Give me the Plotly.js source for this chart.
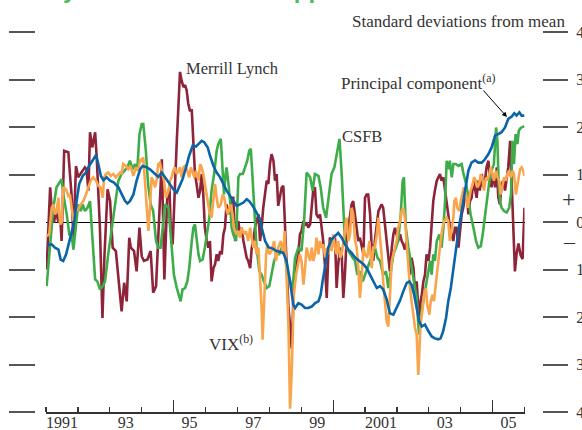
<!DOCTYPE html>
<html>
<head>
<meta charset="utf-8">
<script src="https://cdn.plot.ly/plotly-3.0.1.min.js"></script>
<style>html,body{margin:0;padding:0;background:#fff;}#chart{width:582px;height:430px;}</style>
</head>
<body>
<div id="chart"></div>
<script>
// ---- Data: [decimal year, standard deviations from mean] ----
const merrillLynch = [[1991.02,-1.00],[1991.13,0.73],[1991.19,0.16],[1991.25,-0.01],[1991.31,0.23],[1991.39,-0.01],[1991.44,0.16],[1991.49,-0.40],[1991.57,1.50],[1991.70,1.47],[1991.75,1.01],[1991.80,0.58],[1991.86,-0.33],[1991.94,1.18],[1992.01,0.94],[1992.12,1.04],[1992.22,1.15],[1992.27,1.11],[1992.33,0.66],[1992.38,1.89],[1992.45,1.57],[1992.54,1.89],[1992.59,1.36],[1992.69,-0.12],[1992.77,-2.02],[1992.83,-0.75],[1992.93,0.69],[1993.01,0.44],[1993.09,-0.54],[1993.19,-0.61],[1993.27,-1.11],[1993.37,-1.88],[1993.45,-1.28],[1993.53,-1.67],[1993.61,-0.33],[1993.66,-0.54],[1993.76,-0.61],[1993.84,-1.04],[1993.93,-0.12],[1994.00,-0.72],[1994.07,-0.82],[1994.18,-0.79],[1994.28,-0.61],[1994.36,-1.49],[1994.45,-1.35],[1994.55,0.30],[1994.63,1.32],[1994.71,-1.21],
[1994.76,-0.12],[1994.80,0.51],[1994.87,0.73],[1994.91,-0.12],[1994.97,-0.47],[1995.04,0.87],[1995.10,1.71],[1995.15,2.42],[1995.20,3.16],[1995.25,2.98],[1995.31,2.84],[1995.36,2.88],[1995.41,2.77],[1995.46,2.49],[1995.51,2.35],[1995.57,2.35],[1995.60,1.92],[1995.62,1.71],[1995.67,1.01],[1995.72,0.80],[1995.78,0.51],[1995.83,0.66],[1995.88,1.01],[1995.93,0.58],[1995.98,-0.12],[1996.04,-0.40],[1996.09,-0.54],[1996.14,-0.40],[1996.19,-1.25],[1996.25,-0.97],[1996.30,-0.89],[1996.35,-0.68],[1996.40,-0.82],[1996.46,-0.61],[1996.51,-0.68],[1996.56,-0.26],[1996.61,-0.12],[1996.66,0.37],[1996.72,0.16],[1996.77,0.30],[1996.82,0.51],[1996.87,0.51],[1996.93,-0.40],[1996.98,-0.12],[1997.03,0.02],[1997.08,-0.26],[1997.13,-0.12],[1997.19,-0.40],[1997.24,-0.61],[1997.29,-0.75],[1997.34,-0.82],[1997.40,-0.97],[1997.45,-0.54],[1997.50,-0.40],[1997.55,-0.12],[1997.60,0.02],[1997.66,0.16],[1997.71,-0.40],[1997.76,-0.12],[1997.81,0.30],[1997.87,0.66],[1997.92,0.87],[1997.97,0.80],[1998.02,1.22],[1998.07,1.43],[1998.13,1.29],[1998.18,0.87],[1998.23,1.01],[1998.28,0.34],[1998.34,0.58],
[1998.39,0.73],[1998.44,0.76],[1998.49,-0.12],[1998.54,-1.11],[1998.60,-1.81],[1998.65,-2.16],[1998.70,-2.66],[1998.73,-2.16],[1998.77,-1.25],[1998.84,-0.97],[1998.91,-0.68],[1998.96,-0.26],[1999.01,-0.19],[1999.07,0.02],[1999.12,-0.05],[1999.17,-0.01],[1999.22,-0.12],[1999.28,-0.05],[1999.33,0.30],[1999.38,0.69],[1999.43,0.73],[1999.48,0.16],[1999.54,0.09],[1999.59,0.16],[1999.64,-0.12],[1999.69,-0.40],[1999.75,-0.97],[1999.80,-1.60],[1999.85,-0.68],[1999.90,-0.33],[1999.95,-0.40],[2000.01,-0.47],[2000.06,-0.33],[2000.11,-1.39],[2000.16,-0.89],[2000.22,-0.54],[2000.27,-0.68],[2000.32,-1.60],[2000.37,-1.11],[2000.42,-0.40],[2000.48,-0.12],[2000.53,0.16],[2000.58,0.37],[2000.63,0.44],[2000.69,0.16],[2000.74,-0.12],[2000.79,-0.40],[2000.84,-0.33],[2000.90,-0.54],[2000.95,-0.68],[2001.00,0.51],[2001.05,0.58],[2001.10,0.58],[2001.16,0.16],[2001.21,-0.54],[2001.26,-0.82],[2001.31,-0.40],[2001.37,0.02],[2001.42,0.23],[2001.47,0.30],[2001.52,0.37],[2001.57,0.30],[2001.63,-0.12],[2001.68,-0.40],[2001.73,-0.75],[2001.78,-1.04],[2001.84,-0.54],[2001.89,-0.26],[2001.94,-0.12],[2001.99,-0.26],[2002.04,-0.40],[2002.10,-0.26],[2002.15,-0.40],[2002.20,-0.47],[2002.25,-0.58],
[2002.31,-0.40],[2002.36,-0.75],[2002.41,-1.11],[2002.46,-0.75],[2002.52,-0.97],[2002.57,-1.53],[2002.62,-1.25],[2002.67,-1.81],[2002.70,-2.16],[2002.74,-1.67],[2002.78,-1.53],[2002.83,-1.25],[2002.88,-1.11],[2002.93,-0.68],[2002.99,-0.82],[2003.04,-0.54],[2003.09,-0.12],[2003.14,0.44],[2003.19,0.66],[2003.25,0.87],[2003.30,0.94],[2003.35,1.01],[2003.40,0.87],[2003.46,0.94],[2003.51,0.66],[2003.56,0.44],[2003.61,0.16],[2003.66,-0.12],[2003.72,-0.26],[2003.77,-0.40],[2003.82,-0.12],[2003.87,-0.12],[2003.93,-0.54],[2003.98,-0.12],[2004.03,0.16],[2004.08,0.30],[2004.13,0.51],[2004.19,0.66],[2004.24,0.16],[2004.29,0.44],[2004.34,0.51],[2004.40,0.87],[2004.45,0.66],[2004.50,0.51],[2004.55,0.87],[2004.60,0.66],[2004.66,1.01],[2004.71,0.73],[2004.76,0.87],[2004.81,1.15],[2004.87,1.29],[2004.92,0.87],[2004.97,0.73],[2005.02,1.01],[2005.08,0.73],[2005.13,1.15],[2005.18,0.51],[2005.23,0.37],[2005.28,0.80],[2005.34,0.87],[2005.39,0.66],[2005.44,0.87],[2005.49,1.15],[2005.55,1.71],[2005.60,0.73],[2005.65,0.02],[2005.70,-1.04],[2005.75,-0.68],[2005.81,-0.45],[2005.88,-0.70],[2005.94,-0.78],[2006.00,0.30]];

const csfb = [[1991.02,-1.35],[1991.13,-0.40],[1991.23,0.30],[1991.33,0.73],[1991.44,0.87],[1991.49,0.90],[1991.56,0.51],[1991.65,0.16],[1991.73,-0.26],[1991.80,-0.26],[1991.86,-0.58],[1991.94,-0.12],[1992.01,0.37],[1992.09,0.23],[1992.15,0.37],[1992.22,0.23],[1992.30,0.30],[1992.38,0.44],[1992.43,-0.12],[1992.48,-0.75],[1992.54,-1.21],[1992.61,-1.25],[1992.69,-1.42],[1992.78,-1.35],[1992.85,-1.25],[1992.95,-0.68],[1993.06,-0.12],[1993.16,0.37],[1993.27,0.87],[1993.37,1.01],[1993.48,1.11],[1993.55,1.15],[1993.63,1.29],[1993.72,1.11],[1993.79,1.22],[1993.86,1.08],[1993.93,1.85],[1994.00,2.06],[1994.05,2.06],[1994.13,1.50],[1994.20,0.80],[1994.28,0.37],[1994.36,0.23],[1994.45,-0.40],[1994.52,-0.54],[1994.59,-0.54],[1994.67,-0.05],[1994.73,0.37],
[1994.84,0.30],[1994.89,-0.12],[1994.94,-0.54],[1995.01,-1.11],[1995.10,-1.39],[1995.18,-1.60],[1995.22,-1.67],[1995.28,-1.42],[1995.36,-1.39],[1995.43,-1.25],[1995.49,-0.97],[1995.57,-0.40],[1995.62,-0.12],[1995.67,-0.05],[1995.72,-0.33],[1995.78,-0.68],[1995.83,-0.82],[1995.91,-0.79],[1995.98,-0.54],[1996.04,-0.26],[1996.12,0.09],[1996.19,0.66],[1996.27,1.01],[1996.35,1.50],[1996.40,1.64],[1996.48,1.75],[1996.54,1.08],[1996.58,0.58],[1996.63,1.01],[1996.66,1.15],[1996.72,0.80],[1996.77,0.44],[1996.82,-0.12],[1996.87,-0.26],[1996.96,-0.40],[1997.03,0.94],[1997.08,1.01],[1997.17,1.01],[1997.24,1.15],[1997.31,1.29],[1997.37,1.50],[1997.42,1.54],[1997.48,0.87],[1997.55,-0.05],[1997.60,-0.54],[1997.69,-1.04],[1997.76,-1.11],[1997.83,-1.25],[1997.92,-1.39],[1998.00,-1.35],[1998.07,-1.11],[1998.15,-0.82],[1998.23,-0.68],[1998.31,-0.68],[1998.39,-0.54],[1998.46,-0.55],
[1998.54,-0.97],[1998.65,-1.25],[1998.73,-1.39],[1998.81,-0.75],[1998.91,-0.54],[1999.01,-0.61],[1999.09,0.02],[1999.17,1.04],[1999.28,0.94],[1999.36,0.66],[1999.43,1.01],[1999.54,0.97],[1999.61,0.73],[1999.69,0.30],[1999.78,0.09],[1999.85,0.51],[1999.95,1.01],[2000.04,1.15],[2000.11,1.43],[2000.20,1.75],[2000.27,1.01],[2000.32,0.09],[2000.37,-0.40],[2000.42,-0.54],[2000.53,-0.68],[2000.61,-0.75],[2000.69,-0.82],[2000.76,-1.11],[2000.84,-1.04],[2000.93,-1.25],[2001.00,-1.11],[2001.07,-0.97],[2001.16,-0.82],[2001.24,-0.68],[2001.31,-0.54],[2001.39,-0.75],[2001.47,-0.82],[2001.57,-1.11],[2001.66,-1.04],[2001.73,-1.39],[2001.80,-1.11],[2001.89,-0.68],[2001.97,-0.54],[2002.04,-0.40],[2002.12,0.16],[2002.18,0.87],[2002.22,0.94],
[2002.28,-0.12],[2002.36,-0.54],[2002.41,-0.75],[2002.49,-1.11],[2002.57,-1.39],[2002.62,-1.60],[2002.67,-2.16],[2002.70,-2.37],[2002.74,-2.02],[2002.81,-1.74],[2002.85,-1.60],[2002.91,-1.32],[2002.99,-1.04],[2003.04,-0.82],[2003.09,-1.11],[2003.14,-0.68],[2003.19,-0.82],[2003.25,-0.40],[2003.33,-0.26],[2003.40,-0.54],[2003.46,-0.12],[2003.51,0.44],[2003.56,1.29],[2003.61,1.11],[2003.66,1.29],[2003.72,0.94],[2003.77,1.22],[2003.85,1.22],[2003.93,1.18],[2004.03,1.22],[2004.08,1.04],[2004.17,0.80],[2004.24,0.51],[2004.31,0.16],[2004.40,-0.12],[2004.48,-0.40],[2004.55,-0.54],[2004.63,-0.51],[2004.69,-0.26],[2004.76,0.16],[2004.83,0.51],[2004.90,0.87],[2004.97,1.08],[2005.04,1.22],[2005.11,1.99],[2005.15,1.71],[2005.19,0.80],[2005.23,0.44],[2005.28,0.30],[2005.36,0.23],[2005.44,0.20],[2005.52,0.30],[2005.58,0.60],[2005.62,1.71],[2005.67,1.22],[2005.72,1.85],[2005.78,1.64],[2005.82,1.92],[2005.88,1.98],[2005.96,2.01],[2006.00,2.02]];

const vix = [[1991.02,-0.30],[1991.10,-0.26],[1991.18,0.30],[1991.23,0.37],[1991.28,0.16],[1991.33,0.23],[1991.39,0.51],[1991.44,-0.05],[1991.49,-0.01],[1991.54,0.73],[1991.63,0.69],[1991.70,0.55],[1991.75,0.58],[1991.80,0.37],[1991.86,0.02],[1991.94,0.23],[1992.01,0.27],[1992.09,0.37],[1992.17,0.44],[1992.25,0.58],[1992.33,0.73],[1992.40,0.87],[1992.48,0.94],[1992.57,0.87],[1992.64,0.76],[1992.71,0.73],[1992.78,0.51],[1992.82,0.94],[1992.88,1.01],[1992.95,1.04],[1993.03,0.97],[1993.11,1.01],[1993.19,0.94],[1993.27,1.01],[1993.32,1.04],[1993.37,1.01],[1993.42,1.22],[1993.51,1.18],[1993.58,1.11],[1993.65,1.18],[1993.74,0.97],[1993.82,1.15],[1993.89,1.08],[1993.95,1.32],[1994.00,1.29],[1994.05,1.36],[1994.10,0.87],[1994.16,0.30],[1994.21,-0.19],[1994.26,0.30],[1994.31,0.94],[1994.36,0.87],[1994.42,0.73],[1994.47,0.90],[1994.52,1.22],[1994.57,1.25],[1994.63,1.08],[1994.70,0.87],
[1994.76,0.51],[1994.84,0.66],[1994.89,0.87],[1994.94,0.94],[1994.99,1.08],[1995.04,1.15],[1995.10,1.01],[1995.15,1.08],[1995.20,1.15],[1995.25,0.94],[1995.31,1.15],[1995.36,1.18],[1995.43,1.08],[1995.49,0.94],[1995.54,1.15],[1995.60,1.04],[1995.65,0.94],[1995.70,1.08],[1995.78,0.87],[1995.83,1.22],[1995.88,1.15],[1995.93,1.01],[1995.98,0.80],[1996.04,0.51],[1996.12,0.23],[1996.19,0.09],[1996.25,0.44],[1996.30,0.80],[1996.35,0.51],[1996.40,0.30],[1996.48,0.37],[1996.54,0.58],[1996.59,0.51],[1996.64,0.30],[1996.70,0.16],[1996.75,0.30],[1996.79,0.37],[1996.85,0.16],[1996.89,-0.12],[1996.96,-0.26],[1997.03,-0.19],[1997.08,-0.33],[1997.13,-0.12],[1997.21,-0.26],[1997.27,-0.19],[1997.34,-0.40],[1997.40,-0.12],[1997.45,-0.33],[1997.50,-0.54],[1997.55,-0.40],[1997.60,-0.68],[1997.66,-0.54],[1997.71,-1.11],[1997.76,-1.81],[1997.79,-2.48],[1997.83,-1.81],[1997.90,-0.68],[1997.94,-0.47],[1998.00,-0.68],[1998.07,-0.61],[1998.15,-0.40],[1998.21,-0.82],[1998.28,-0.54],[1998.36,-0.40],[1998.44,-0.68],
[1998.48,-0.19],[1998.52,-0.68],[1998.54,-1.11],[1998.60,-2.16],[1998.63,-3.22],[1998.65,-3.93],[1998.70,-3.22],[1998.73,-2.52],[1998.77,-1.53],[1998.84,-1.11],[1998.91,-0.82],[1998.96,-0.68],[1999.01,-0.82],[1999.07,-1.32],[1999.12,-0.97],[1999.17,-0.54],[1999.22,-0.68],[1999.28,-0.82],[1999.33,-0.54],[1999.38,-0.82],[1999.43,-0.68],[1999.48,-0.33],[1999.54,-0.68],[1999.59,-0.40],[1999.64,-0.54],[1999.69,-0.47],[1999.75,-0.75],[1999.80,-0.54],[1999.85,-0.68],[1999.90,-0.40],[1999.95,-0.61],[2000.01,-0.26],[2000.06,-0.54],[2000.11,-0.68],[2000.16,-0.40],[2000.22,-0.75],[2000.27,-0.68],[2000.32,-0.40],[2000.37,-0.12],[2000.42,0.09],[2000.48,-0.40],[2000.53,-0.26],[2000.58,0.30],[2000.63,0.16],[2000.69,-0.40],[2000.74,-0.54],[2000.79,-0.97],[2000.84,-1.60],[2000.90,-1.11],[2000.95,-0.54],[2001.00,-0.68],[2001.07,-0.75],[2001.14,-0.40],[2001.21,-0.97],[2001.26,-0.54],[2001.31,-0.54],[2001.37,-0.26],[2001.42,0.09],[2001.47,-0.33],[2001.52,-0.68],[2001.57,-1.25],[2001.63,-1.67],[2001.68,-2.09],[2001.73,-2.20],[2001.78,-1.67],[2001.84,-0.82],[2001.89,-0.68],[2001.94,-0.54],[2001.99,-0.40],[2002.04,-0.12],[2002.10,0.02],[2002.15,0.23],[2002.20,0.30],[2002.25,0.09],
[2002.31,-0.54],[2002.36,-0.97],[2002.41,-1.39],[2002.46,-1.67],[2002.52,-2.02],[2002.57,-2.23],[2002.62,-2.37],[2002.67,-3.22],[2002.70,-2.80],[2002.74,-2.16],[2002.81,-1.81],[2002.85,-1.53],[2002.91,-1.39],[2002.95,-1.74],[2003.02,-1.95],[2003.06,-1.67],[2003.12,-1.53],[2003.16,-1.67],[2003.23,-1.25],[2003.27,-0.97],[2003.33,-0.68],[2003.37,-0.40],[2003.43,-0.12],[2003.48,0.02],[2003.56,0.09],[2003.61,0.02],[2003.66,-0.40],[2003.72,-0.12],[2003.77,0.09],[2003.80,0.44],[2003.85,0.51],[2003.89,0.30],[2003.96,0.23],[2004.00,0.44],[2004.06,0.58],[2004.10,0.73],[2004.17,0.58],[2004.22,0.30],[2004.27,0.51],[2004.31,0.66],[2004.38,0.80],[2004.42,0.94],[2004.48,0.87],[2004.52,0.73],[2004.58,0.80],[2004.63,1.01],[2004.69,0.87],[2004.73,0.66],[2004.79,0.94],[2004.83,0.87],[2004.90,1.01],[2004.94,1.15],[2005.00,1.01],[2005.04,0.87],[2005.11,1.08],[2005.15,0.94],[2005.21,0.87],[2005.25,0.58],[2005.32,0.80],[2005.36,0.94],[2005.42,0.87],[2005.46,1.01],[2005.52,1.08],[2005.57,0.94],[2005.63,1.08],[2005.67,1.01],[2005.73,0.58],[2005.78,0.80],[2005.82,1.01],[2005.86,1.11],[2005.91,1.15],[2005.96,1.08],[2006.00,0.97]];

const principalComponent = [[1991.04,-0.49],[1991.18,-0.47],[1991.28,-0.54],[1991.39,-0.58],[1991.46,-0.79],[1991.54,-0.82],[1991.63,-0.68],[1991.73,-0.40],[1991.80,-0.19],[1991.89,0.02],[1991.96,0.44],[1992.04,0.80],[1992.15,0.97],[1992.25,1.04],[1992.35,1.18],[1992.46,1.29],[1992.57,1.41],[1992.64,1.22],[1992.72,0.97],[1992.80,0.88],[1992.90,0.94],[1993.01,0.87],[1993.13,0.83],[1993.27,0.73],[1993.37,0.58],[1993.48,0.44],[1993.55,0.39],[1993.63,0.44],[1993.74,0.58],[1993.84,0.87],[1993.95,1.11],[1994.03,1.18],[1994.13,1.16],[1994.26,1.11],[1994.42,1.01],[1994.52,0.95],[1994.63,1.04],[1994.73,0.94],
[1994.89,0.80],[1994.99,0.69],[1995.10,0.62],[1995.18,0.73],[1995.28,0.90],[1995.39,1.15],[1995.49,1.40],[1995.60,1.61],[1995.70,1.59],[1995.81,1.66],[1995.88,1.71],[1995.96,1.68],[1996.07,1.57],[1996.14,1.40],[1996.25,1.18],[1996.35,1.04],[1996.46,0.94],[1996.56,0.80],[1996.66,0.66],[1996.77,0.55],[1996.87,0.44],[1996.98,0.34],[1997.08,0.37],[1997.19,0.41],[1997.29,0.48],[1997.37,0.44],[1997.48,0.34],[1997.58,0.23],[1997.69,0.09],[1997.76,-0.12],[1997.87,-0.40],[1997.97,-0.53],[1998.11,-0.56],[1998.23,-0.61],[1998.34,-0.63],
[1998.44,-0.65],[1998.54,-0.82],[1998.65,-1.25],[1998.75,-1.74],[1998.81,-1.81],[1998.91,-1.71],[1999.01,-1.74],[1999.12,-1.81],[1999.22,-1.81],[1999.33,-1.78],[1999.43,-1.71],[1999.54,-1.67],[1999.61,-1.53],[1999.67,-1.25],[1999.75,-0.89],[1999.85,-0.54],[1999.95,-0.37],[2000.06,-0.30],[2000.16,-0.23],[2000.27,-0.33],[2000.37,-0.47],[2000.48,-0.58],[2000.58,-0.65],[2000.69,-0.75],[2000.84,-0.82],[2000.95,-0.89],[2001.05,-0.97],[2001.16,-1.11],[2001.26,-1.25],[2001.37,-1.39],[2001.47,-1.35],[2001.57,-1.42],[2001.68,-1.63],[2001.78,-1.92],[2001.89,-1.95],[2001.99,-1.81],[2002.10,-1.65],
[2002.20,-1.46],[2002.31,-1.28],[2002.39,-1.25],[2002.46,-1.32],[2002.54,-1.53],[2002.62,-1.81],[2002.70,-2.09],[2002.78,-2.20],[2002.88,-2.16],[2002.99,-2.30],[2003.09,-2.41],[2003.19,-2.45],[2003.30,-2.47],[2003.37,-2.45],[2003.45,-2.30],[2003.54,-2.02],[2003.61,-1.67],[2003.69,-1.39],[2003.77,-0.97],[2003.85,-0.54],[2003.93,-0.19],[2004.03,0.23],[2004.14,0.73],[2004.24,1.08],[2004.34,1.25],[2004.45,1.30],[2004.55,1.25],[2004.66,1.25],[2004.76,1.32],[2004.87,1.43],[2004.97,1.57],[2005.08,1.82],[2005.18,1.85],[2005.28,1.89],[2005.39,1.99],[2005.49,2.17],[2005.60,2.22],[2005.68,2.29],[2005.75,2.24],[2005.84,2.31],[2005.91,2.24],[2006.00,2.24]];

// ---- Axis ticks and labels ----
const yearTicks = [1991,1992,1993,1994,1995,1996,1997,1998,1999,2000,2001,2002,2003,2004,2005,2006];
const majorYearTicks = [1995,2000,2005];
const yearLabelPositions = [1991.5,1993.5,1995.5,1997.5,1999.5,2001.5,2003.5,2005.5];
const yearLabels = ['1991','93','95','97','99','2001','03','05'];
const yTickValues = [-4,-3,-2,-1,0,1,2,3,4];
const yTickLabels = ['4','3','2','1','0','1','2','3','4'];

const W = 582, H = 430;
const serif = '"Liberation Serif", "Times New Roman", Times, serif';
const textColor = '#333333';

function series(data, color, name) {
  return {
    x: data.map(d => d[0]), y: data.map(d => d[1]),
    type: 'scatter', mode: 'lines', name: name,
    line: {color: color, width: 2.6, shape: 'linear'},
    hoverinfo: 'skip', showlegend: false
  };
}

const traces = [
  series(merrillLynch, '#8E2439', 'Merrill Lynch'),
  series(csfb, '#3EAD49', 'CSFB'),
  series(vix, '#F8A54C', 'VIX'),
  series(principalComponent, '#0A64A8', 'Principal component'),
  {x:[null], y:[null], xaxis:'x', yaxis:'y2', type:'scatter', mode:'lines', showlegend:false, hoverinfo:'skip'},
  {x:[null], y:[null], xaxis:'x2', yaxis:'y', type:'scatter', mode:'lines', showlegend:false, hoverinfo:'skip'}
];

const xDomain = [46/W, 524.5/W];
const layout = {
  width: W, height: H,
  margin: {l:0, r:0, t:32, b:18, pad:0},
  paper_bgcolor: '#ffffff', plot_bgcolor: '#ffffff',
  showlegend: false,
  font: {family: serif, size: 16, color: textColor},
  xaxis: {
    domain: xDomain, range: [1991, 2006], anchor: 'y', fixedrange: true,
    tickmode: 'array', tickvals: yearLabelPositions, ticktext: yearLabels,
    ticks: '', showticklabels: true, ticklabelstandoff: -5,
    tickfont: {family: serif, size: 16, color: textColor},
    showline: true, linecolor: '#333333', linewidth: 1.5,
    showgrid: false, zeroline: false,
    minor: {tickmode: 'array', tickvals: yearTicks, ticks: 'inside', ticklen: 5, tickwidth: 1.2, tickcolor: '#333333', showgrid: false}
  },
  xaxis2: {
    overlaying: 'x', anchor: 'y', domain: xDomain, range: [1991, 2006], fixedrange: true,
    tickmode: 'array', tickvals: majorYearTicks, ticks: 'inside', ticklen: 12, tickwidth: 1.2, tickcolor: '#333333',
    showticklabels: false, showline: false, showgrid: false, zeroline: false
  },
  yaxis: {
    range: [-4, 4], anchor: 'free', position: 35/W, side: 'left', fixedrange: true,
    tickmode: 'array', tickvals: yTickValues, ticks: 'outside', ticklen: 26, tickwidth: 2, tickcolor: '#555555',
    showticklabels: false, showline: false, showgrid: false,
    zeroline: true, zerolinecolor: '#000000', zerolinewidth: 1
  },
  yaxis2: {
    range: [-4, 4], overlaying: 'y', anchor: 'free', position: 542/W, side: 'right', fixedrange: true,
    tickmode: 'array', tickvals: yTickValues, ticktext: yTickLabels,
    ticks: 'outside', ticklen: 25, tickwidth: 2, tickcolor: '#555555', ticklabelstandoff: 5,
    tickfont: {family: serif, size: 16, color: textColor},
    showline: false, showgrid: false, zeroline: false
  },
  annotations: [
    {xref:'paper', yref:'paper', x: -35/W, y: (412-5)/380, xanchor:'left', yanchor:'bottom', showarrow:false,
     text:'<b>Summary measures of risk appetite</b>', font:{family:'"Liberation Sans", Arial, sans-serif', size:24, color:'#4DBE5C'}},
    {xref:'paper', yref:'paper', x: 567/W, y: (412-22)/380, xanchor:'right', yanchor:'middle', showarrow:false,
     text:'Standard deviations from mean', font:{family: serif, size:17, color: textColor}},
    {xref:'x', yref:'y', x: 1996.86, y: 3.24, xanchor:'center', yanchor:'middle', showarrow:false,
     text:'Merrill Lynch', font:{family: serif, size:16.5, color: textColor}},
    {xref:'x', yref:'y', x: 2005.14, y: 2.95, xanchor:'right', yanchor:'middle', showarrow:false,
     text:'Principal component<sup>(a)</sup>', font:{family: serif, size:17, color: textColor}},
    {xref:'x', yref:'y', axref:'x', ayref:'y', x: 2005.45, y: 2.21, ax: 2004.67, ay: 2.80, showarrow:true,
     arrowhead:2, arrowsize:1, arrowwidth:1, arrowcolor:'#000000', text:''},
    {xref:'x', yref:'y', x: 2000.91, y: 1.81, xanchor:'center', yanchor:'middle', showarrow:false,
     text:'CSFB', font:{family: serif, size:16.5, color: textColor}},
    {xref:'x', yref:'y', x: 1996.80, y: -2.55, xanchor:'center', yanchor:'middle', showarrow:false,
     text:'VIX<sup>(b)</sup>', font:{family: serif, size:17, color: textColor}},
    {xref:'paper', yref:'paper', x: 569/W, y: (412-199)/380, xanchor:'center', yanchor:'middle', showarrow:false,
     text:'+', font:{family: serif, size:24, color: textColor}},
    {xref:'paper', yref:'paper', x: 569/W, y: (412-241)/380, xanchor:'center', yanchor:'middle', showarrow:false,
     text:'–', font:{family: serif, size:22, color: textColor}}
  ]
};

Plotly.newPlot('chart', traces, layout, {staticPlot: true, displayModeBar: false});
</script>
</body>
</html>
